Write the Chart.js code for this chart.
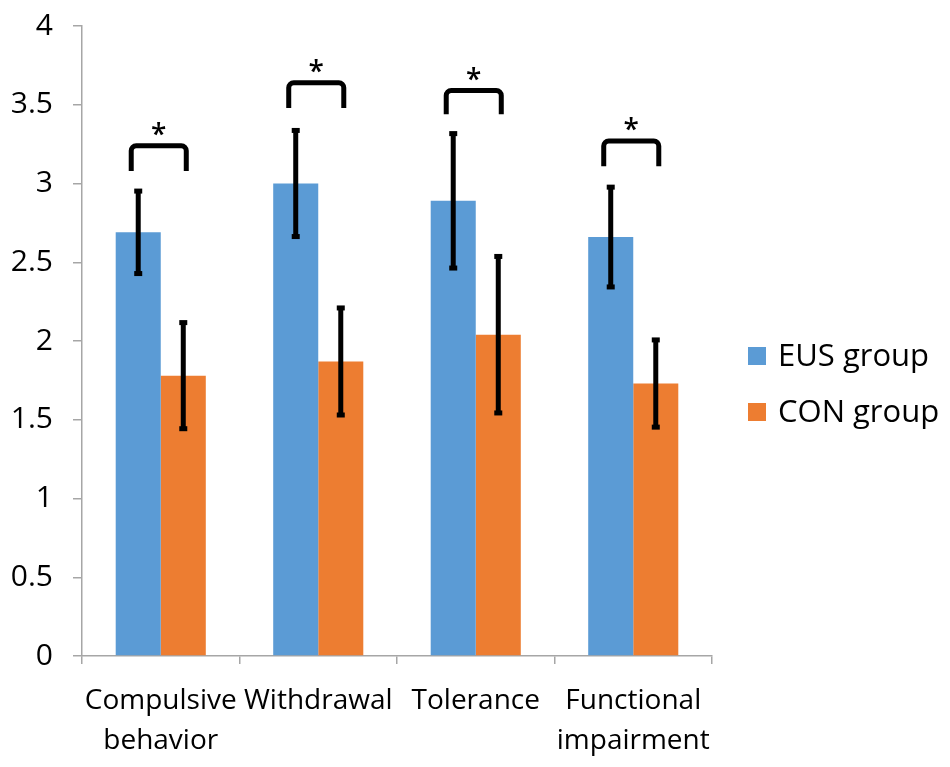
<!DOCTYPE html>
<html>
<head>
<meta charset="utf-8">
<script src="https://cdn.jsdelivr.net/npm/chart.js@4"></script>
<style>
html,body{margin:0;padding:0;background:#fff;}
#wrap{width:950px;height:767px;position:relative;}
</style>
</head>
<body>
<div id="wrap"><canvas id="c" width="950" height="767"></canvas></div>
<script>
const categories = [["Compulsive","behavior"], "Withdrawal", "Tolerance", ["Functional","impairment"]];
const seriesNames = ["EUS group", "CON group"];
const eusValues = [2.69, 3.00, 2.89, 2.66];
const conValues = [1.78, 1.87, 2.04, 1.73];
const eusErrors = [0.265, 0.34, 0.43, 0.32];
const conErrors = [0.34, 0.343, 0.50, 0.28];
const bracketTop = [3.24, 3.64, 3.59, 3.27];
const bracketLeg = [3.08, 3.48, 3.44, 3.11];
const bracketMarks = ["*", "*", "*", "*"];
const yTicks = [0, 0.5, 1, 1.5, 2, 2.5, 3, 3.5, 4];
const yTickLabels = ["0", "0.5", "1", "1.5", "2", "2.5", "3", "3.5", "4"];

const colors = ["#5B9BD5", "#ED7D31"];
const FONT = "'Open Sans', 'DejaVu Sans', sans-serif";

const errorBars = {
  id: 'errorBars',
  afterDatasetsDraw(chart) {
    const ctx = chart.ctx;
    const ys = chart.scales.y;
    const errs = [eusErrors, conErrors];
    const vals = [eusValues, conValues];
    ctx.save();
    ctx.strokeStyle = '#000';
    ctx.fillStyle = '#000';
    ctx.lineWidth = 5;
    for (let d = 0; d < 2; d++) {
      const meta = chart.getDatasetMeta(d);
      meta.data.forEach((bar, j) => {
        const x = bar.x;
        const yHi = ys.getPixelForValue(vals[d][j] + errs[d][j]);
        const yLo = ys.getPixelForValue(vals[d][j] - errs[d][j]);
        ctx.beginPath();
        ctx.moveTo(x, yHi);
        ctx.lineTo(x, yLo);
        ctx.stroke();
        ctx.fillRect(x - 4, yHi - 2, 8, 5);
        ctx.fillRect(x - 4, yLo - 3, 8, 5);
      });
    }
    // significance brackets
    const m0 = chart.getDatasetMeta(0), m1 = chart.getDatasetMeta(1);
    ctx.lineWidth = 5;
    ctx.lineJoin = 'round';
    ctx.lineCap = 'butt';
    for (let j = 0; j < categories.length; j++) {
      const xl = m0.data[j].x - 7;
      const xr = m1.data[j].x + 3;
      const yt = ys.getPixelForValue(bracketTop[j]);
      const yl = ys.getPixelForValue(bracketLeg[j]);
      ctx.beginPath();
      ctx.moveTo(xl, yl);
      ctx.arcTo(xl, yt, xr, yt, 5);
      ctx.arcTo(xr, yt, xr, yl, 5);
      ctx.lineTo(xr, yl);
      ctx.stroke();
      ctx.font = "600 28px " + FONT;
      ctx.textAlign = 'center';
      ctx.textBaseline = 'middle';
      ctx.fillText(bracketMarks[j], (xl + xr) / 2, yt - 10);
    }
    ctx.restore();
  }
};

const sideLegend = {
  id: 'sideLegend',
  afterDraw(chart) {
    const ctx = chart.ctx;
    const area = chart.chartArea;
    ctx.save();
    ctx.font = "31px " + FONT;
    ctx.textBaseline = 'middle';
    ctx.textAlign = 'left';
    chart.data.datasets.forEach((ds, i) => {
      const cy = 356 + i * 56;
      ctx.fillStyle = ds.backgroundColor;
      ctx.fillRect(area.right + 36, cy - 9, 18, 18);
      ctx.fillStyle = '#000';
      ctx.fillText(ds.label, area.right + 66, cy + 1);
    });
    ctx.restore();
  }
};

new Chart(document.getElementById('c'), {
  type: 'bar',
  data: {
    labels: categories,
    datasets: [
      { label: seriesNames[0], data: eusValues, backgroundColor: colors[0] },
      { label: seriesNames[1], data: conValues, backgroundColor: colors[1] }
    ]
  },
  options: {
    responsive: false,
    animation: false,
    devicePixelRatio: 1,
    layout: { padding: { top: 0, right: 238, left: 0, bottom: 0 } },
    datasets: { bar: { barPercentage: 1.0, categoryPercentage: 0.572 } },
    plugins: { legend: { display: false }, tooltip: { enabled: false } },
    scales: {
      x: {
        grid: { display: true, drawOnChartArea: false, drawTicks: true, tickLength: 8, color: '#a6a6a6', lineWidth: 1.5 },
        border: { color: '#a6a6a6', width: 1.5 },
        ticks: { color: '#000', font: { family: FONT, size: 28, lineHeight: 1.42 }, padding: 17, maxRotation: 0, autoSkip: false },
        afterFit(scale) { scale.height = 111; }
      },
      y: {
        min: 0, max: 4,
        afterBuildTicks(scale) { scale.ticks = yTicks.map(v => ({ value: v })); },
        grid: { display: true, drawOnChartArea: false, drawTicks: true, tickLength: 9, color: '#a6a6a6', lineWidth: 1.5 },
        border: { color: '#a6a6a6', width: 1.5 },
        ticks: {
          color: '#000', font: { family: FONT, size: 30, lineHeight: 0.4 }, padding: 20,
          callback(value, index) { return yTickLabels[index]; }
        },
        afterFit(scale) { scale.width = 82; }
      }
    }
  },
  plugins: [errorBars, sideLegend]
});
</script>
</body>
</html>
